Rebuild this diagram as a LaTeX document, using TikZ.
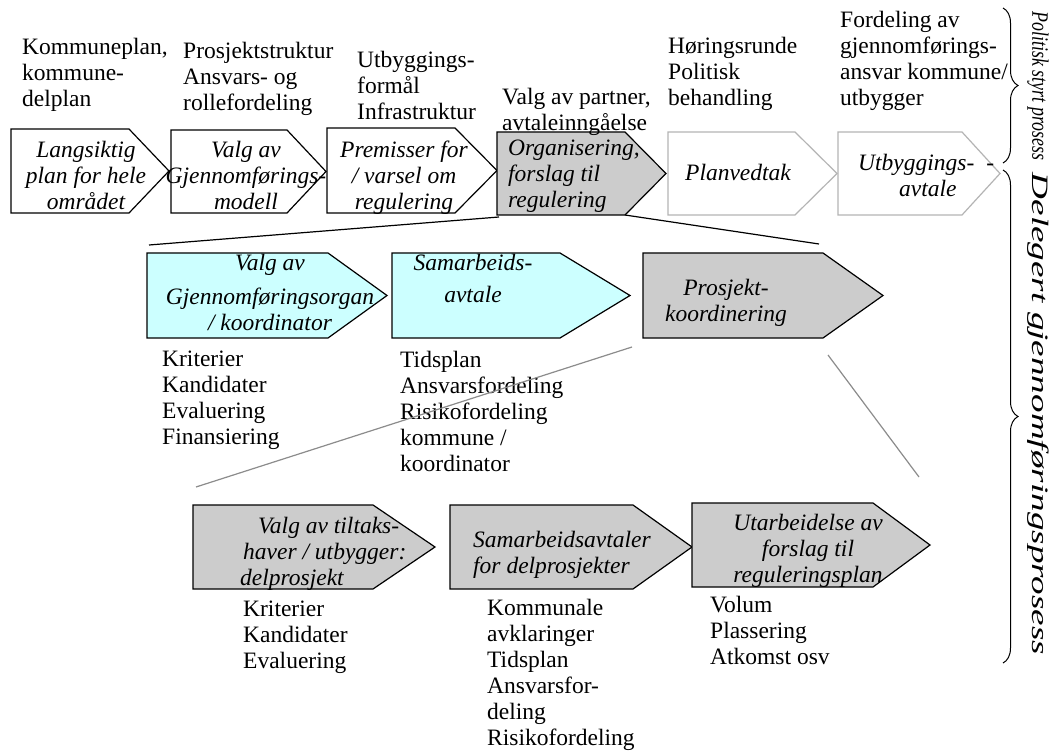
\documentclass[tikz,border=0pt]{standalone}
\usepackage{fontspec}
\setmainfont{Liberation Serif}
\usetikzlibrary{decorations.pathreplacing}
\definecolor{boxgray}{HTML}{CCCCCC}
\definecolor{boxcyan}{HTML}{CCFFFF}
\definecolor{lightedge}{HTML}{B4B4B4}
\definecolor{funnelgray}{HTML}{8C8C8C}
\newcommand{\mychev}[7]{%
  \draw[#2] (#3,#6) coordinate (#1-nw) -- (#4,#6) coordinate (#1-ne)
    -- (#5,{(#6+#7)/2}) coordinate (#1-tip) -- (#4,#7) coordinate (#1-se)
    -- (#3,#7) coordinate (#1-sw) -- cycle;}
\begin{document}
\begin{tikzpicture}[x=1pt,y=-1pt,
  chevplain/.style={draw=black, line width=1.2pt, fill=white},
  chevgray/.style={draw=black, line width=1.2pt, fill=boxgray},
  chevcyan/.style={draw=black, line width=1.2pt, fill=boxcyan},
  chevlight/.style={draw=lightedge, line width=1.2pt, fill=white},
  lbl/.style={inner sep=0pt, align=left, anchor=north west, font=\fontsize{23.5}{26}\selectfont},
  boxtxt/.style={inner sep=0pt, align=center, font=\fontsize{23.5}{26}\selectfont\itshape},
  funnel/.style={draw=black, line width=1.2pt},
  funnelg/.style={draw=funnelgray, line width=1.2pt},
  bracestyle/.style={draw=black, line width=1pt, decorate, decoration={brace, amplitude=15pt}},
  sidetxt/.style={inner sep=0pt, rotate=-90, font=\fontsize{23.5}{26}\selectfont\itshape}]
\useasboundingbox (0,0) rectangle (1055,754);
\fill[white] (0,0) rectangle (1055,754);

% top row
\mychev{b1}{chevplain}{11}{129}{169}{129}{213}
\mychev{b2}{chevplain}{171}{287}{326}{130}{213}
\mychev{b3}{chevplain}{327}{455}{497}{128}{213}
\mychev{b4}{chevgray}{497}{625}{666}{132}{215}
\mychev{b5}{chevlight}{668}{795}{837}{132}{215}
\mychev{b6}{chevlight}{838}{962}{1000}{132}{215}

\node[boxtxt, anchor=north] (t1) at (86,141) {Langsiktig\\plan for hele\\området};
\node[boxtxt, anchor=north] (t2) at (246,141) {Valg av\\Gjennomførings-\\modell};
\node[boxtxt, anchor=north] (t3) at (404,141) {Premisser for\\/ varsel om\\regulering};
\node[boxtxt, align=left, anchor=north west] (t4) at (508,140) {Organisering,\\forslag til\\regulering};
\node[boxtxt] (t5) at (738,172) {Planvedtak};
\node[boxtxt, align=left, anchor=north west] (t6) at (858,154) {Utbyggings-\hspace{12pt}-\\\hspace*{41pt}avtale};

\node[lbl] (l1) at (22,38) {Kommuneplan,\\kommune-\\delplan};
\node[lbl] (l2) at (183,42) {Prosjektstruktur\\Ansvars- og\\rollefordeling};
\node[lbl] (l3) at (357,51) {Utbyggings-\\formål\\Infrastruktur};
\node[lbl] (l4) at (502,88) {Valg av partner,\\avtaleinngåelse};
\node[lbl] (l5) at (668,37) {Høringsrunde\\Politisk\\behandling};
\node[lbl] (l6) at (840,11) {Fordeling av\\gjennomførings-\\ansvar kommune/\\utbygger};

% middle row
\mychev{m1}{chevcyan}{147}{328}{387}{253}{338}
\mychev{m2}{chevcyan}{392}{560}{630}{253}{338}
\mychev{m3}{chevgray}{643}{823}{883}{253}{338}

\node[boxtxt, anchor=north] (tm1) at (270,254) {Valg av\\[8pt]Gjennomføringsorgan\\/ koordinator};
\node[boxtxt, anchor=north] (tm2) at (473,254) {Samarbeids-\\[6pt]avtale};
\node[boxtxt, anchor=north] (tm3) at (726,279) {Prosjekt-\\koordinering};

\node[lbl] (lm1) at (162,351) {Kriterier\\Kandidater\\Evaluering\\Finansiering};
\node[lbl] (lm2) at (400,351) {Tidsplan\\Ansvarsfordeling\\Risikofordeling\\kommune /\\koordinator};

% bottom row
\mychev{n1}{chevgray}{193}{373}{435}{505}{589}
\mychev{n2}{chevgray}{450}{633}{692}{505}{589}
\mychev{n3}{chevgray}{692}{873}{930}{503}{587}

\node[boxtxt, align=left, anchor=north west] (tn1) at (240,517) {\hspace*{18pt}Valg av tiltaks-\\\hspace*{3pt}haver / utbygger:\\delprosjekt};
\node[boxtxt, align=left, anchor=north west] (tn2) at (473,531) {Samarbeidsavtaler\\for delprosjekter};
\node[boxtxt, anchor=north] (tn3) at (808,514) {Utarbeidelse av\\forslag til\\reguleringsplan};

\node[lbl] (ln1) at (243,601) {Kriterier\\Kandidater\\Evaluering};
\node[lbl] (ln2) at (487,599) {Kommunale\\avklaringer\\Tidsplan\\Ansvarsfor-\\deling\\Risikofordeling};
\node[lbl] (ln3) at (710,596) {Volum\\Plassering\\Atkomst osv};

% funnel connectors
\coordinate (f1s) at (499,217);
\coordinate (f1e) at (149,245);
\coordinate (f2e) at (819,244);
\coordinate (f3s) at (632,347);
\coordinate (f3e) at (196,487);
\coordinate (f4s) at (828,355);
\coordinate (f4e) at (919,477);
\draw[funnel] (f1s) -- (f1e);
\draw[funnel] (b4-se) -- (f2e);
\draw[funnelg] (f3s) -- (f3e);
\draw[funnelg] (f4s) -- (f4e);

% braces
\coordinate (br1t) at (1003,8);
\coordinate (br1b) at (1003,163);
\coordinate (br2t) at (1003,170);
\coordinate (br2b) at (1003,663);
\draw[bracestyle] (br1t) -- (br1b);
\draw[bracestyle] (br2t) -- (br2b);
\node[sidetxt] (pol) at (1038,86) {\scalebox{0.76}[1]{Politisk styrt prosess}};
\node[sidetxt] (del) at (1038,414) {\scalebox{1.58}[1]{Delegert gjennomføringsprosess}};
\end{tikzpicture}
\end{document}
